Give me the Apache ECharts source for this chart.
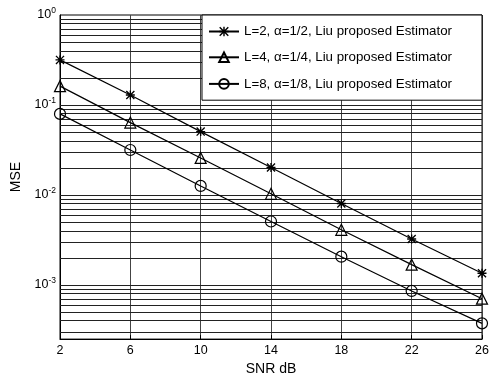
<!DOCTYPE html>
<html>
<head>
<meta charset="utf-8">
<script src="https://cdn.jsdelivr.net/npm/echarts@6/dist/echarts.min.js"></script>
<style>html,body{margin:0;padding:0;background:#fff;}#c{width:494px;height:381px;}</style>
</head>
<body>
<div id="c"></div>
<script>
// ---- data ----
var snr = [2, 6, 10, 14, 18, 22, 26];
var mseL2 = [0.317, 0.129, 0.0506, 0.0202, 0.00803, 0.00324, 0.00135];
var mseL4 = [0.162, 0.0637, 0.0258, 0.0103, 0.0041, 0.00168, 0.000703];
var mseL8 = [0.0796, 0.0316, 0.0126, 0.00507, 0.00206, 0.000857, 0.000374];
var seriesNames = [
  'L=2, \u03B1=1/2, Liu proposed Estimator',
  'L=4, \u03B1=1/4, Liu proposed Estimator',
  'L=8, \u03B1=1/8, Liu proposed Estimator'
];
var xTicks = [2, 6, 10, 14, 18, 22, 26];
var yDecades = [-4, -3, -2, -1];   // decade exponents for log grid
var yMin = 2.5e-4, yMax = 1;

// horizontal log grid values (1..9 x 10^n) inside the range
var gridVals = [];
yDecades.forEach(function (e) {
  for (var m = 1; m <= 9; m++) {
    var v = m * Math.pow(10, e);
    if (v > yMin * 1.0001 && v < yMax * 0.9999) gridVals.push(v);
  }
});

var starPath = 'path://M8.5 0L11.5 0L11.5 20L8.5 20Z M0 8.5L20 8.5L20 11.5L0 11.5Z M2.1 0L20 17.9L17.9 20L0 2.1Z M17.9 0L20 2.1L2.1 20L0 17.9Z';

function pts(ys) { return snr.map(function (x, i) { return [x, ys[i]]; }); }

var font = 'Liberation Sans, Arial, sans-serif';

var chart = echarts.init(document.getElementById('c'), null, { renderer: 'canvas' });
chart.setOption({
  animation: false,
  backgroundColor: '#fff',
  textStyle: { fontFamily: font, color: '#000' },
  grid: { left: 60, right: 12, top: 15, bottom: 33, show: true, borderColor: '#000', borderWidth: 1, backgroundColor: 'transparent' },
  legend: {
    orient: 'vertical',
    right: 12, top: 15,
    backgroundColor: '#fff',
    borderColor: '#000', borderWidth: 1, borderRadius: 0,
    padding: [10, 30, 9, 6],
    itemWidth: 30, itemHeight: 12, itemGap: 12,
    textStyle: { fontFamily: font, fontSize: 13.3, color: '#000' },
    data: seriesNames,
    z: 10
  },
  xAxis: {
    type: 'value', min: 2, max: 26, interval: 4,
    name: 'SNR dB', nameLocation: 'middle', nameGap: 18,
    nameTextStyle: { fontFamily: font, fontSize: 14, color: '#000' },
    axisLine: { lineStyle: { color: '#000', width: 1 } },
    axisTick: { inside: true, length: 4, lineStyle: { color: '#000' } },
    axisLabel: { fontFamily: font, fontSize: 12.5, color: '#000', margin: 5 },
    splitLine: { show: true, lineStyle: { color: '#444', width: 1, type: 'solid' } }
  },
  yAxis: {
    type: 'log', logBase: 10, min: yMin, max: yMax,
    name: 'MSE', nameLocation: 'middle', nameGap: 32, nameRotate: 90,
    nameTextStyle: { fontFamily: font, fontSize: 14, color: '#000' },
    axisLine: { lineStyle: { color: '#000', width: 1 } },
    axisTick: { show: false },
    splitLine: { show: false },
    axisLabel: {
      fontFamily: font, fontSize: 12.5, color: '#000', margin: 4,
      showMinLabel: false,
      formatter: function (v) {
        var e = Math.log10(v);
        var r = Math.round(e);
        if (Math.abs(e - r) > 1e-6) return '';
        return '10{sup|' + r + '}';
      },
      rich: { sup: { fontFamily: font, fontSize: 8.5, color: '#000', padding: [0, 0, 9, 0] } }
    }
  },
  series: [
    {
      name: seriesNames[0], type: 'line', data: pts(mseL2),
      symbol: starPath, symbolSize: 9, showAllSymbol: true,
      lineStyle: { color: '#000', width: 1.2 },
      itemStyle: { color: '#000' },
      z: 5,
      markLine: {
        silent: true, symbol: ['none', 'none'], label: { show: false },
        precision: 12,
        lineStyle: { color: '#222', width: 1, type: 'solid' },
        emphasis: { disabled: true },
        data: gridVals.map(function (v) { return { yAxis: v }; }),
        z: 1
      }
    },
    {
      name: seriesNames[1], type: 'line', data: pts(mseL4),
      symbol: 'triangle', symbolSize: 11, showAllSymbol: true,
      lineStyle: { color: '#000', width: 1.2 },
      itemStyle: { color: 'none', borderColor: '#000', borderWidth: 1.2 },
      z: 5
    },
    {
      name: seriesNames[2], type: 'line', data: pts(mseL8),
      symbol: 'circle', symbolSize: 11, showAllSymbol: true,
      lineStyle: { color: '#000', width: 1.2 },
      itemStyle: { color: 'none', borderColor: '#000', borderWidth: 1.2 },
      z: 5
    }
  ]
});
</script>
</body>
</html>
